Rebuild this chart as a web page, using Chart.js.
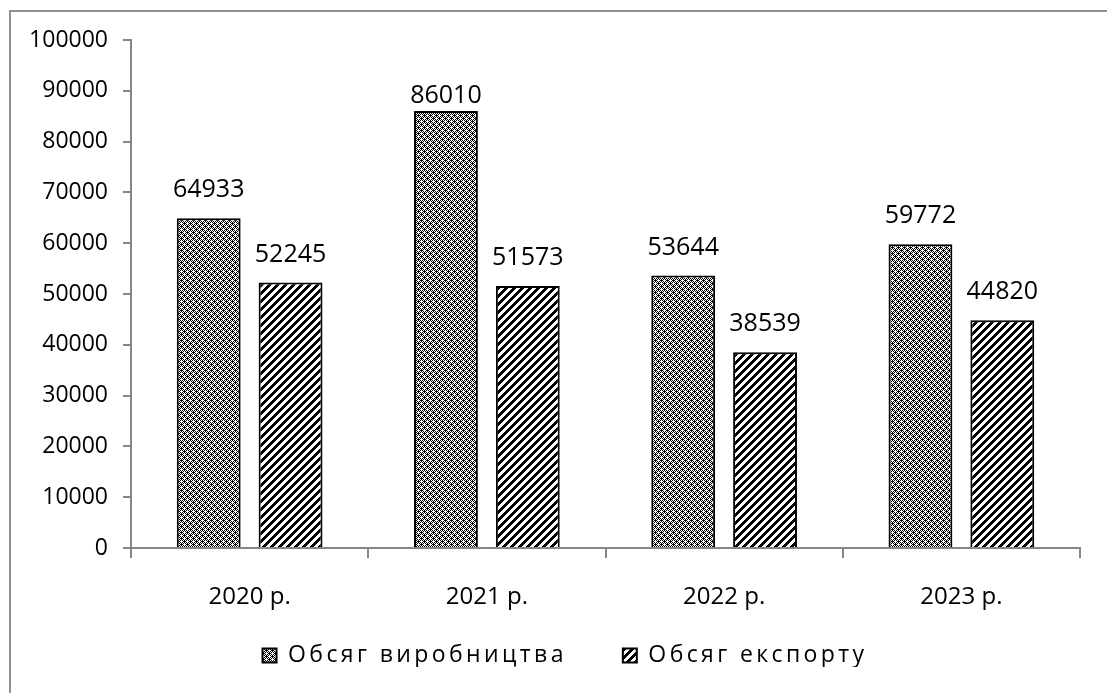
<!DOCTYPE html>
<html>
<head>
<meta charset="utf-8">
<script src="https://cdn.jsdelivr.net/npm/chart.js@4/dist/chart.umd.min.js"></script>
<style>
  body { margin: 0; background: #fff; }
  canvas { display: block; }
</style>
</head>
<body>
<canvas id="chart" width="1107" height="693"></canvas>
<script>
// data
const years = ['2020 р.', '2021 р.', '2022 р.', '2023 р.'];
const production = [64933, 86010, 53644, 59772];
const exportVol = [52245, 51573, 38539, 44820];
const seriesNames = ['Обсяг виробництва', 'Обсяг експорту'];
const yTicks = [0, 10000, 20000, 30000, 40000, 50000, 60000, 70000, 80000, 90000, 100000];

const FONT = '"Open Sans", "Noto Sans", sans-serif';
const AXIS_GRAY = '#868686';
const LEGEND_SPACING = '3.4px';
// legend box sits a bit right of and above where chart.js puts it
const LEGEND_DX = 25;
const LEGEND_DY = -26;

// bitmap fill patterns, like the Excel ones
function makePattern(size, isBlack) {
    const c = document.createElement('canvas');
    c.width = c.height = size;
    const g = c.getContext('2d');
    g.fillStyle = '#fff';
    g.fillRect(0, 0, size, size);
    g.fillStyle = '#000';
    for (let y = 0; y < size; y++) {
        for (let x = 0; x < size; x++) {
            if (isBlack(x, y)) g.fillRect(x, y, 1, 1);
        }
    }
    return g.createPattern(c, 'repeat');
}

// crosses on a 3px checker
const checkFill = makePattern(6, (x, y) => {
    const plus = (x % 3 === 1) || (y % 3 === 1);
    const even = (Math.floor(x / 3) + Math.floor(y / 3)) % 2 === 0;
    return even ? !plus : plus;
});
// wide "/" stripes
const stripeFill = makePattern(8, (x, y) => (x + y) % 8 < 4);

// outer frame of the picture
const framePlugin = {
    id: 'frame',
    beforeDraw(chart) {
        const ctx = chart.ctx;
        ctx.save();
        ctx.strokeStyle = '#8f8f8f';
        ctx.lineWidth = 2;
        ctx.beginPath();
        ctx.moveTo(10, 693);
        ctx.lineTo(10, 11);
        ctx.lineTo(1107, 11);
        ctx.stroke();
        ctx.restore();
    }
};

// value labels above the bars (kept under the 90000 line, as in the picture)
const valueLabels = {
    id: 'valueLabels',
    afterDatasetsDraw(chart) {
        const ctx = chart.ctx;
        const ceiling = chart.scales.y.getPixelForValue(90000) + 5;
        ctx.save();
        ctx.font = '25px ' + FONT;
        ctx.fillStyle = '#000';
        ctx.textAlign = 'center';
        ctx.textBaseline = 'middle';
        chart.data.datasets.forEach((ds, i) => {
            chart.getDatasetMeta(i).data.forEach((bar, j) => {
                ctx.fillText(String(ds.data[j]), bar.x, Math.max(bar.y - 28, ceiling));
            });
        });
        ctx.restore();
    }
};

// legend text in the picture is letter-spaced
const spacedLegend = {
    id: 'spacedLegend',
    afterInit(chart) {
        const lg = chart.legend;
        if (!lg) return;
        const fit = lg.fit.bind(lg);
        const draw = lg.draw.bind(lg);
        lg.fit = (...args) => {
            const ctx = chart.ctx;
            const prev = ctx.letterSpacing;
            ctx.letterSpacing = LEGEND_SPACING;
            const r = fit(...args);
            ctx.letterSpacing = prev;
            return r;
        };
        lg.draw = (...args) => {
            const ctx = chart.ctx;
            ctx.save();
            ctx.translate(LEGEND_DX, LEGEND_DY);
            ctx.letterSpacing = LEGEND_SPACING;
            const r = draw(...args);
            ctx.restore();
            return r;
        };
    }
};

new Chart(document.getElementById('chart'), {
    type: 'bar',
    data: {
        labels: years,
        datasets: [
            {
                label: seriesNames[0],
                data: production,
                backgroundColor: checkFill,
                borderColor: '#000',
                borderWidth: 2
            },
            {
                label: seriesNames[1],
                data: exportVol,
                backgroundColor: stripeFill,
                borderColor: '#000',
                borderWidth: 2
            }
        ]
    },
    options: {
        responsive: false,
        animation: false,
        layout: { padding: { left: 0, right: 27, top: 40, bottom: 0 } },
        datasets: {
            bar: { categoryPercentage: 0.69, barPercentage: 0.78 }
        },
        plugins: {
            tooltip: { enabled: false },
            legend: {
                position: 'bottom',
                maxHeight: 79,
                labels: {
                    color: '#000',
                    font: { family: FONT, size: 23 },
                    boxWidth: 14,
                    boxHeight: 14,
                    padding: 56
                }
            }
        },
        scales: {
            x: {
                afterFit: (s) => { s.height = 66; },
                border: { color: AXIS_GRAY, width: 2 },
                grid: {
                    drawOnChartArea: false,
                    tickLength: 10,
                    color: AXIS_GRAY,
                    lineWidth: 2
                },
                ticks: {
                    color: '#000',
                    padding: 25,
                    font: { family: FONT, size: 24 }
                }
            },
            y: {
                min: yTicks[0],
                max: yTicks[yTicks.length - 1],
                afterFit: (s) => { s.width = 131; },
                afterBuildTicks: (s) => { s.ticks = yTicks.map(v => ({ value: v })); },
                border: { color: AXIS_GRAY, width: 2 },
                grid: {
                    drawOnChartArea: false,
                    tickLength: 8,
                    color: AXIS_GRAY,
                    lineWidth: 2
                },
                ticks: {
                    color: '#000',
                    padding: 15,
                    font: { family: FONT, size: 23 },
                    callback: (v) => String(v)
                }
            }
        }
    },
    plugins: [framePlugin, valueLabels, spacedLegend]
});
</script>
</body>
</html>
